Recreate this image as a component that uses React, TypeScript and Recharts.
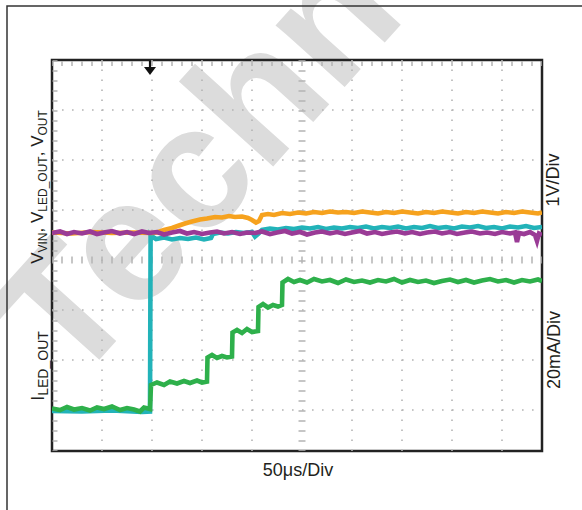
import React from "react";
import {
  LineChart,
  Line,
  XAxis,
  YAxis,
  ReferenceLine,
  ReferenceArea,
  ReferenceDot,
} from "recharts";

// scope screen: time in µs (50 µs/div), amplitude in divisions from the bottom graticule line
const timeGrid = [50, 100, 150, 200, 300, 350, 400, 450];
const divGrid = [1, 2, 3, 5, 6, 7];
const centerTime = 250;
const centerDiv = 4;
const triggerTime = 98;

type Pt = [number, number];

const vinTrace: Pt[] = [
  [0, 4.54], [8, 4.57], [15, 4.52], [22, 4.56], [30, 4.53], [38, 4.57], [45, 4.52], [52, 4.55],
  [60, 4.58], [68, 4.53], [75, 4.56], [82, 4.52], [90, 4.57], [97, 4.54], [105, 4.56], [112, 4.51],
  [120, 4.55], [128, 4.58], [135, 4.53], [142, 4.56], [150, 4.52], [158, 4.55], [165, 4.57], [172, 4.53],
  [180, 4.56], [188, 4.52], [195, 4.55], [203, 4.54], [210, 4.57], [218, 4.52], [225, 4.55], [233, 4.58],
  [240, 4.53], [248, 4.56], [255, 4.51], [263, 4.55], [270, 4.57], [278, 4.53], [285, 4.56], [293, 4.52],
  [300, 4.55], [308, 4.58], [315, 4.53], [323, 4.56], [330, 4.52], [338, 4.55], [345, 4.57], [353, 4.53],
  [360, 4.56], [368, 4.52], [375, 4.55], [383, 4.57], [390, 4.53], [398, 4.56], [405, 4.52], [413, 4.55],
  [420, 4.57], [428, 4.53], [435, 4.55], [443, 4.52], [450, 4.56], [458, 4.53], [463, 4.55], [465, 4.36],
  [467, 4.54], [472, 4.52], [478, 4.56], [483, 4.5], [485, 4.38], [487, 4.53], [490, 4.5],
];

const voutTrace: Pt[] = [
  [0, 4.55], [20, 4.53], [40, 4.56], [60, 4.54], [80, 4.55], [100, 4.54], [105, 4.55], [112, 4.6],
  [120, 4.64], [127, 4.69], [133, 4.73], [140, 4.77], [148, 4.81], [155, 4.83], [163, 4.86], [170, 4.85],
  [177, 4.88], [183, 4.86], [190, 4.87], [196, 4.84], [200, 4.8], [204, 4.75], [207, 4.78], [210, 4.9],
  [216, 4.92], [222, 4.9], [230, 4.94], [238, 4.92], [246, 4.95], [254, 4.93], [262, 4.96], [270, 4.94],
  [278, 4.97], [286, 4.95], [294, 4.96], [302, 4.94], [310, 4.97], [318, 4.95], [326, 4.93], [334, 4.96],
  [342, 4.94], [350, 4.97], [358, 4.95], [366, 4.93], [374, 4.96], [382, 4.94], [390, 4.97], [398, 4.95],
  [406, 4.93], [414, 4.96], [422, 4.94], [430, 4.97], [438, 4.95], [446, 4.93], [454, 4.96], [462, 4.94],
  [470, 4.97], [478, 4.95], [486, 4.93], [490, 4.95],
];

const vledTrace: Pt[] = [
  [0, 0.98], [30, 0.97], [60, 0.99], [90, 0.96], [98, 0.97], [98.6, 4.5], [100, 4.47], [104, 4.42],
  [112, 4.45], [120, 4.41], [128, 4.44], [136, 4.42], [144, 4.45], [152, 4.41], [159, 4.44], [161, 4.52],
  [168, 4.55], [176, 4.53], [184, 4.56], [192, 4.54], [200, 4.56], [203, 4.47], [206, 4.52], [210, 4.6],
  [218, 4.63], [226, 4.61], [234, 4.64], [242, 4.62], [250, 4.65], [258, 4.63], [266, 4.66], [274, 4.62],
  [282, 4.65], [290, 4.63], [298, 4.66], [306, 4.64], [314, 4.67], [322, 4.63], [330, 4.66], [338, 4.64],
  [346, 4.67], [354, 4.63], [362, 4.66], [370, 4.64], [378, 4.68], [386, 4.64], [394, 4.66], [402, 4.63],
  [410, 4.67], [418, 4.65], [426, 4.68], [434, 4.64], [442, 4.66], [450, 4.63], [458, 4.67], [466, 4.65],
  [474, 4.68], [482, 4.64], [490, 4.66],
];

const iledTrace: Pt[] = [
  [0, 1.03], [8, 1.0], [15, 1.06], [22, 1.01], [30, 1.04], [38, 0.99], [45, 1.05], [52, 1.02],
  [60, 1.07], [68, 1.0], [75, 1.04], [82, 1.01], [88, 0.97], [92, 1.05], [98, 1.02], [99, 1.5],
  [105, 1.55], [112, 1.5], [118, 1.57], [125, 1.53], [132, 1.58], [138, 1.54], [145, 1.59], [150, 1.55],
  [155, 1.57], [155.5, 2.05], [160, 2.1], [165, 2.04], [170, 2.08], [175, 2.05], [180, 2.07], [180.5, 2.55],
  [185, 2.6], [190, 2.54], [195, 2.62], [200, 2.56], [206, 2.58], [206.5, 3.06], [211, 3.12], [216, 3.05],
  [221, 3.1], [226, 3.07], [230, 3.1], [230.5, 3.55], [236, 3.62], [242, 3.56], [248, 3.6], [255, 3.55],
  [262, 3.62], [270, 3.57], [278, 3.6], [286, 3.54], [294, 3.61], [302, 3.56], [310, 3.59], [318, 3.55],
  [326, 3.6], [334, 3.57], [342, 3.62], [350, 3.55], [358, 3.6], [366, 3.56], [374, 3.59], [382, 3.54],
  [390, 3.58], [398, 3.61], [406, 3.56], [414, 3.6], [422, 3.55], [430, 3.59], [438, 3.62], [446, 3.57],
  [454, 3.6], [462, 3.55], [470, 3.6], [478, 3.57], [486, 3.61], [490, 3.58],
];

const toRows = (pts: Pt[]) => pts.map(([t, v]) => ({ t, v }));

const font = "'Liberation Sans', Arial, sans-serif";
const ink = "#231f20";
const gridColor = "#b4b4b4";

export default function App() {
  const traces = [
    { pts: vledTrace, color: "#22b3b9" },
    { pts: iledTrace, color: "#2eb04b" },
    { pts: voutTrace, color: "#f6a21e" },
    { pts: vinTrace, color: "#9a3b96" },
  ];

  return (
    <div style={{ position: "absolute", left: 0, top: 0, width: 582, height: 510, background: "#fff", overflow: "hidden" }}>
      <svg width={582} height={510} style={{ position: "absolute", left: 0, top: 0 }}>
        <text
          x={72}
          y={390}
          transform="rotate(-48 72 390)"
          fontFamily={font}
          fontWeight="bold"
          fontSize={175}
          fill="#dcdcdc"
        >
          Techn
        </text>
      </svg>

      <div style={{ position: "absolute", left: 0, top: 0 }}>
        <LineChart width={582} height={510} margin={{ top: 60, right: 40, bottom: 59, left: 52 }}>
          <XAxis type="number" dataKey="t" domain={[0, 490]} hide allowDataOverflow />
          <YAxis type="number" dataKey="v" domain={[0.18, 8]} hide allowDataOverflow />

          {divGrid.map((d) => (
            <ReferenceLine key={"r" + d} y={d} stroke={gridColor} strokeWidth={1.6} strokeDasharray="1.6 8.4" />
          ))}
          {timeGrid.map((t) => (
            <ReferenceLine key={"c" + t} x={t} stroke={gridColor} strokeWidth={1.6} strokeDasharray="1.6 8.4" />
          ))}
          <ReferenceLine y={centerDiv} stroke={gridColor} strokeWidth={7} strokeDasharray="1.5 8.5" strokeDashoffset={0.75} />
          <ReferenceLine x={centerTime} stroke={gridColor} strokeWidth={7} strokeDasharray="1.5 8.5" strokeDashoffset={0.75} />
          <ReferenceLine y={7.93} stroke={gridColor} strokeWidth={5} strokeDasharray="1.5 8.5" strokeDashoffset={0.75} />
          <ReferenceLine x={3} stroke={gridColor} strokeWidth={5} strokeDasharray="1.5 8.5" strokeDashoffset={0.75} />

          {traces.map((s, i) => (
            <Line
              key={i}
              data={toRows(s.pts)}
              dataKey="v"
              type="linear"
              stroke={s.color}
              strokeWidth={4.6}
              strokeLinejoin="miter"
              dot={false}
              activeDot={false}
              isAnimationActive={false}
            />
          ))}

          <ReferenceArea x1={0} x2={490} y1={0.18} y2={8} fill="none" stroke="#222" strokeWidth={2.5} />
          <ReferenceDot
            x={triggerTime}
            y={7.84}
            r={1}
            ifOverflow="visible"
            shape={(p: any) => (
              <g>
                <path d={`M${p.cx},${p.cy - 7} V${p.cy}`} stroke="#111" strokeWidth={2.2} />
                <path d={`M${p.cx - 6},${p.cy - 1} L${p.cx + 6},${p.cy - 1} L${p.cx},${p.cy + 7} Z`} fill="#111" />
              </g>
            )}
          />
        </LineChart>
      </div>

      <svg width={582} height={510} style={{ position: "absolute", left: 0, top: 0, pointerEvents: "none" }}>
        <path d="M7,510 V6 H582" fill="none" stroke="#333" strokeWidth={1.5} />
        <g fontFamily={font} fill={ink}>
          <text x={43} y={187} transform="rotate(-90 43 187)" textAnchor="middle" fontSize={17}>
            V<tspan fontSize={12} dy={3.5}>VIN</tspan>
            <tspan dy={-3.5}>, V</tspan>
            <tspan fontSize={12} dy={3.5}>LED_OUT</tspan>
            <tspan dy={-3.5}>, V</tspan>
            <tspan fontSize={12} dy={3.5}>OUT</tspan>
          </text>
          <text x={44} y={366} transform="rotate(-90 44 366)" textAnchor="middle" fontSize={18}>
            I<tspan fontSize={14} dy={4}>LED_OUT</tspan>
          </text>
          <text x={559} y={180} transform="rotate(-90 559 180)" textAnchor="middle" fontSize={18}>
            1V/Div
          </text>
          <text x={560} y={350} transform="rotate(-90 560 350)" textAnchor="middle" fontSize={18}>
            20mA/Div
          </text>
          <text x={298} y={476} textAnchor="middle" fontSize={18}>
            50μs/Div
          </text>
        </g>
      </svg>
    </div>
  );
}
